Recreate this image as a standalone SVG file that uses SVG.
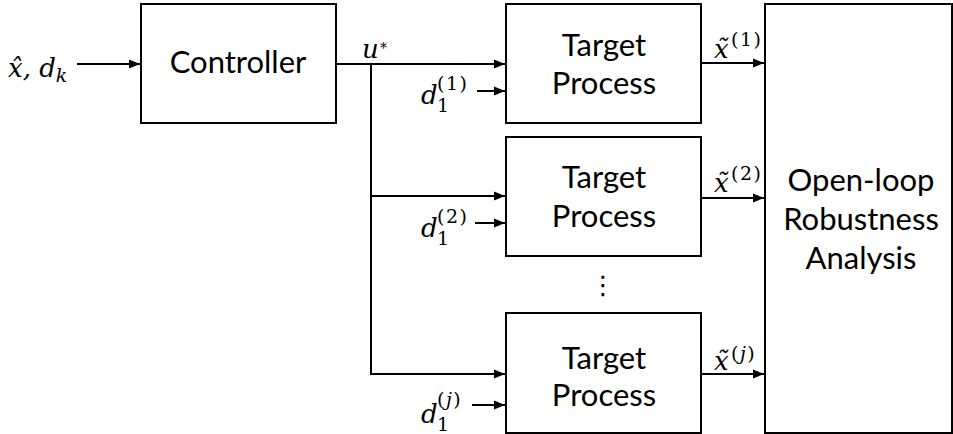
<svg xmlns="http://www.w3.org/2000/svg" width="953" height="434" viewBox="0 0 953 434">
<style>
.box{fill:#fff;stroke:#000;stroke-width:2}
.lbl{font-family:Lato,"Open Sans",sans-serif;font-size:31px;fill:#000;text-anchor:middle}
.m{font-family:"DejaVu Serif","Liberation Serif",serif;font-size:26px;font-style:italic;fill:#000}
.s{font-family:"DejaVu Serif","Liberation Serif",serif;font-size:19px;font-style:normal;fill:#000;letter-spacing:1.5px}
.si{font-family:"DejaVu Serif","Liberation Serif",serif;font-size:19px;font-style:italic;fill:#000}
.c{fill:none;stroke:#000;stroke-width:2}
</style>
<defs>
<marker id="ah" markerUnits="userSpaceOnUse" markerWidth="11" markerHeight="10" refX="11" refY="5" orient="auto">
<path d="M0,0.5 L11,5 L0,9.5 z" fill="#000"/>
</marker>
</defs>
<g id="connectors">
<path class="c" d="M77,64 H140" marker-end="url(#ah)"/>
<path class="c" d="M336,64 H505" marker-end="url(#ah)"/>
<path class="c" d="M371,64 V374 H505" marker-end="url(#ah)"/>
<path class="c" d="M371,196 H505" marker-end="url(#ah)"/>
<path class="c" d="M477,91 H505" marker-end="url(#ah)"/>
<path class="c" d="M475,223 H505" marker-end="url(#ah)"/>
<path class="c" d="M472,405 H505" marker-end="url(#ah)"/>
<path class="c" d="M701,63 H764" marker-end="url(#ah)"/>
<path class="c" d="M701,198 H764" marker-end="url(#ah)"/>
<path class="c" d="M701,374 H764" marker-end="url(#ah)"/>
</g>
<g id="controller">
<rect class="box" x="141" y="4" width="195" height="119"/>
<text class="lbl" x="238" y="73">Controller</text>
</g>
<g id="target1">
<rect class="box" x="506" y="4" width="195" height="119"/>
<text class="lbl" x="604" y="56">Target</text>
<text class="lbl" x="604" y="94">Process</text>
</g>
<g id="target2">
<rect class="box" x="506" y="137" width="195" height="119"/>
<text class="lbl" x="604" y="188">Target</text>
<text class="lbl" x="604" y="227">Process</text>
</g>
<g id="target3">
<rect class="box" x="506" y="313" width="195" height="120"/>
<text class="lbl" x="604" y="369">Target</text>
<text class="lbl" x="604" y="406">Process</text>
</g>
<g id="analysis">
<rect class="box" x="765" y="4" width="187" height="429"/>
<text class="lbl" x="861" y="191">Open-loop</text>
<text class="lbl" x="861" y="230">Robustness</text>
<text class="lbl" x="861" y="269">Analysis</text>
</g>
<g id="labels">
<text class="m" x="8" y="77">x̂, d<tspan class="si" dy="5">k</tspan></text>
<text class="m" x="362" y="58">u</text>
<text class="s" x="380" y="53" style="font-size:14px">*</text>
<text class="m" x="421" y="104">d</text>
<text class="s" x="437" y="90">(1)</text>
<text class="s" x="437" y="112">1</text>
<text class="m" x="421" y="237">d</text>
<text class="s" x="437" y="223">(2)</text>
<text class="s" x="437" y="245">1</text>
<text class="m" x="421" y="423">d</text>
<text class="s" x="437" y="406">(<tspan class="si">j</tspan>)</text>
<text class="s" x="437" y="431">1</text>
<text class="m" x="714" y="58">x̃</text>
<text class="s" x="731" y="46">(1)</text>
<text class="m" x="714" y="192">x̃</text>
<text class="s" x="731" y="180">(2)</text>
<text class="m" x="714" y="370">x̃</text>
<text class="s" x="731" y="360">(<tspan class="si">j</tspan>)</text>
<text x="603" y="294" style="font-family:'DejaVu Sans',sans-serif;font-size:26px;text-anchor:middle">⋮</text>
</g>
</svg>
